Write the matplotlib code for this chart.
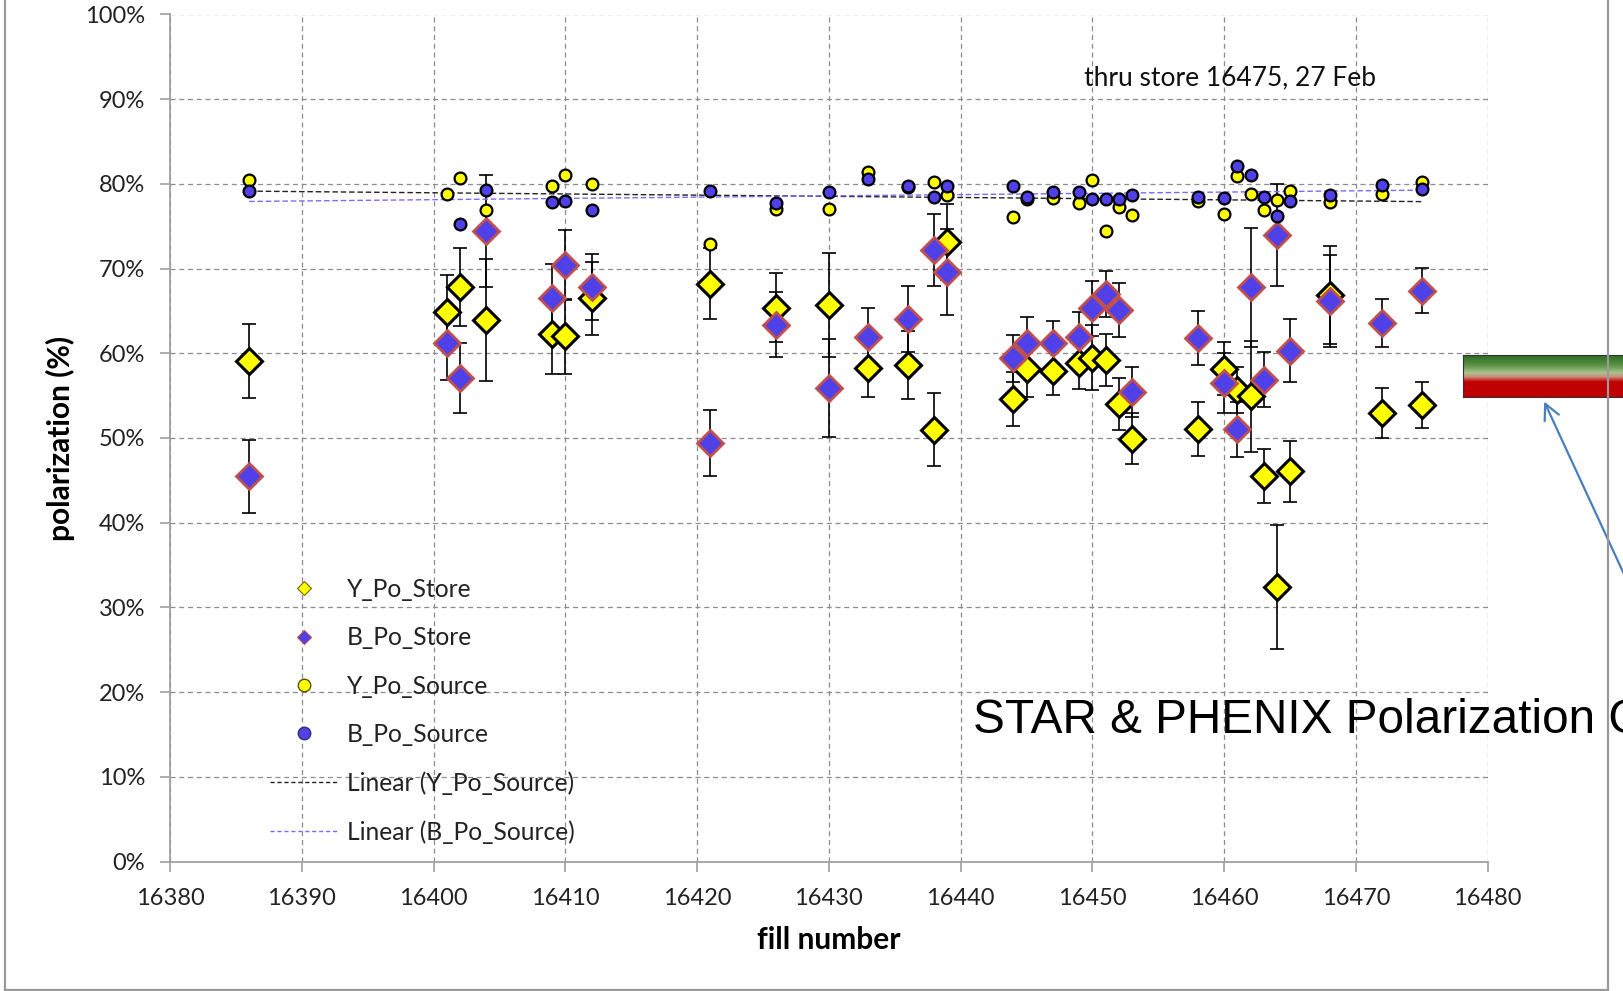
import matplotlib
matplotlib.use("Agg")
import matplotlib.pyplot as plt
import numpy as np
from matplotlib.colors import LinearSegmentedColormap
from matplotlib.lines import Line2D
from matplotlib.patches import FancyArrowPatch
from matplotlib.ticker import FuncFormatter, MultipleLocator

# fills with store measurements
fills = [16386, 16401, 16402, 16404, 16409, 16410, 16412, 16421, 16426, 16430,
         16433, 16436, 16438, 16439, 16444, 16445, 16447, 16449, 16450, 16451,
         16452, 16453, 16458, 16460, 16461, 16462, 16463, 16464, 16465, 16468,
         16472, 16475]

y_store = [59.1, 64.9, 67.8, 63.9, 62.3, 62.0, 66.5, 68.2, 65.4, 65.7,
           58.3, 58.6, 51.0, 73.1, 54.6, 58.1, 57.9, 58.8, 59.5, 59.2,
           54.0, 49.9, 51.1, 58.2, 55.7, 54.9, 45.5, 32.4, 46.1, 66.9,
           53.0, 53.9]
y_store_err = [4.4, 4.3, 4.6, 7.2, 4.8, 4.4, 4.3, 4.2, 4.1, 6.1,
               3.5, 4.0, 4.3, 4.5, 3.2, 3.3, 2.8, 3.0, 3.8, 3.1,
               3.1, 3.0, 3.2, 3.1, 2.7, 6.6, 3.2, 7.3, 3.6, 5.8,
               2.95, 2.7]

b_store = [45.5, 61.2, 57.1, 74.4, 66.5, 70.4, 67.8, 49.4, 63.4, 55.9,
           61.9, 64.0, 72.2, 69.6, 59.4, 61.25, 61.25, 61.9, 65.3, 67.0,
           65.1, 55.4, 61.8, 56.5, 51.05, 67.8, 56.9, 74.0, 60.3, 66.2,
           63.6, 67.4]
b_store_err = [4.3, 4.4, 4.1, 6.6, 4.1, 4.1, 3.9, 3.9, 3.8, 5.8,
               3.4, 3.9, 4.3, 5.1, 2.8, 3.0, 2.6, 3.0, 3.2, 2.7,
               3.2, 2.95, 3.2, 3.5, 3.25, 7.0, 3.2, 6.0, 3.7, 5.4,
               2.8, 2.7]

y_source = [80.5, 78.8, 80.7, 76.9, 79.7, 81.1, 80.0, 72.9, 77.0, 77.0,
            81.4, 79.6, 80.2, 78.7, 76.1, 78.2, 78.3, 77.7, 80.5, 74.4,
            77.3, 76.3, 78.0, 76.4, 80.9, 78.8, 76.9, 78.15, 79.2, 77.9,
            78.8, 80.2]
b_source = [79.2, np.nan, 75.3, 79.3, 77.9, 78.0, 76.9, 79.2, 77.7, 79.1,
            80.6, 79.7, 78.5, 79.8, 79.8, 78.4, 79.1, 79.1, 78.2, 78.2,
            78.2, 78.7, 78.5, 78.3, 82.1, 81.0, 78.5, 76.2, 78.0, 78.7,
            79.9, 79.4]

x = np.array(fills, dtype=float)

W, H = 1623, 991
fig = plt.figure(figsize=(W / 100, H / 100), dpi=100, facecolor="white")
ax = fig.add_axes([170 / W, 1 - 861.5 / H, (1487.7 - 170) / W, (861.5 - 14.5) / H])

TXT = ["Lato", "DejaVu Sans"]
GRID = "#8c8c8c"

# error bars first, markers on top (Excel series order)
ax.errorbar(x, y_store, yerr=y_store_err, fmt="none", ecolor="black",
            elinewidth=1.2, capsize=5, capthick=1.2, zorder=2)
ax.errorbar(x, b_store, yerr=b_store_err, fmt="none", ecolor="black",
            elinewidth=1.2, capsize=5, capthick=1.2, zorder=2)
ax.plot(x, y_store, "D", ms=13, mfc="#ffff00", mec="black", mew=2.2, ls="none", zorder=3)
ax.plot(x, b_store, "D", ms=13, mfc="#5040e8", mec="#c0504d", mew=2.0, ls="none", zorder=4)
ax.plot(x, y_source, "o", ms=8.5, mfc="#ffff00", mec="black", mew=1.6, ls="none", zorder=5)
ax.plot(x, b_source, "o", ms=8.5, mfc="#5040e8", mec="black", mew=1.6, ls="none", zorder=6)

# linear trends of the source polarizations
ys = np.array(y_source)
bs = np.array(b_source)
ok = ~np.isnan(bs)
xs_fit = np.array([x.min(), x.max()])
ky = np.polyfit(x, ys, 1)
kb = np.polyfit(x[ok], bs[ok], 1)
ax.plot(xs_fit, np.polyval(ky, xs_fit), color="#222222", lw=1.0, ls=(0, (4, 2)), zorder=4.5)
ax.plot(xs_fit, np.polyval(kb, xs_fit), color="#7b6bff", lw=1.0, ls=(0, (4, 2)), zorder=4.5)

ax.set_xlim(16380, 16480)
ax.set_ylim(0, 100)
ax.xaxis.set_major_locator(MultipleLocator(10))
ax.yaxis.set_major_locator(MultipleLocator(10))
ax.yaxis.set_major_formatter(FuncFormatter(lambda v, _: f"{v:.0f}%"))
ax.grid(True, color=GRID, lw=0.9, ls=(0, (4, 3)))
ax.set_axisbelow(True)
for s in ("top", "right"):
    ax.spines[s].set_visible(False)
for s in ("left", "bottom"):
    ax.spines[s].set_color("#a0a0a0")
    ax.spines[s].set_linewidth(1.3)
ax.tick_params(axis="both", direction="out", color="#a0a0a0", width=1.2, length=7,
               labelsize=17, labelcolor="#222222")
ax.tick_params(axis="y", pad=11)
ax.tick_params(axis="x", pad=12)
for lab in ax.get_xticklabels() + ax.get_yticklabels():
    lab.set_family(TXT)

ax.set_xlabel("fill number", fontsize=21.5, fontweight="bold", family=TXT, labelpad=12)
ax.set_ylabel("polarization (%)", fontsize=21.5, fontweight="bold", family=TXT, labelpad=7)

ax.text(1084 / W, 1 - 78 / H, "thru store 16475, 27 Feb", transform=fig.transFigure,
        fontsize=19, family=TXT, ha="left", va="center", color="#111111")

# legend
handles = [
    Line2D([], [], ls="none", marker="D", ms=7.5, mfc="#ffff00", mec="#6b6b00", mew=0.8),
    Line2D([], [], ls="none", marker="D", ms=7.5, mfc="#5040e8", mec="#c0504d", mew=0.8),
    Line2D([], [], ls="none", marker="o", ms=9, mfc="#ffff00", mec="#555500", mew=1.0),
    Line2D([], [], ls="none", marker="o", ms=9, mfc="#5040e8", mec="#333366", mew=1.0),
    Line2D([], [], color="#222222", lw=1.0, ls=(0, (3, 2))),
    Line2D([], [], color="#7b6bff", lw=1.0, ls=(0, (3, 2))),
]
labels = ["Y_Po_Store", "B_Po_Store", "Y_Po_Source", "B_Po_Source",
          "Linear (Y_Po_Source)", "Linear (B_Po_Source)"]
leg = ax.legend(handles, labels, loc="upper left", bbox_to_anchor=(270 / W, 1 - 578 / H),
                bbox_transform=fig.transFigure, frameon=False, borderpad=0,
                borderaxespad=0, handlelength=2.75, handletextpad=0.37,
                labelspacing=1.03, prop={"family": TXT, "size": 17.7})
for t in leg.get_texts():
    t.set_color("#222222")

# outer frame of the slide chart
for xs_, ys_ in [((5, 5), (0, 990)), ((5, 1608), (990, 990)), ((1608, 1608), (0, 990))]:
    fig.add_artist(Line2D([v / W for v in xs_], [1 - v / H for v in ys_],
                          transform=fig.transFigure, color="#9a9a9a", lw=1.6))

# overlay text from the slide, runs off the right edge as in the original
fig.text(973 / W, 1 - 733 / H, "STAR & PHENIX Polarization Goal", fontsize=34.4,
         family=["Liberation Sans", "DejaVu Sans"], ha="left", va="baseline", color="black")

# gradient bar
cmap = LinearSegmentedColormap.from_list(
    "bar", [(0.0, "#2a6a20"), (0.25, "#5f9548"), (0.42, "#a8c38c"),
            (0.52, "#cf8a78"), (0.64, "#c00000"), (1.0, "#c00000")])
bax = fig.add_axes([1463 / W, 1 - 397 / H, (W - 1463) / W, (397 - 355) / H])
bax.imshow(np.linspace(0, 1, 100).reshape(-1, 1), aspect="auto", cmap=cmap,
           extent=(0, 1, 1, 0))
bax.set_xticks([])
bax.set_yticks([])
for sp in bax.spines.values():
    sp.set_color("#333333")
    sp.set_linewidth(0.8)

fig.add_artist(FancyArrowPatch(
    (1660 / W, 1 - 652 / H), (1543 / W, 1 - 399 / H), transform=fig.transFigure,
    arrowstyle="->", mutation_scale=28, color="#4a7ebb", lw=1.6))

fig.savefig("out.png", dpi=100, facecolor="white")
